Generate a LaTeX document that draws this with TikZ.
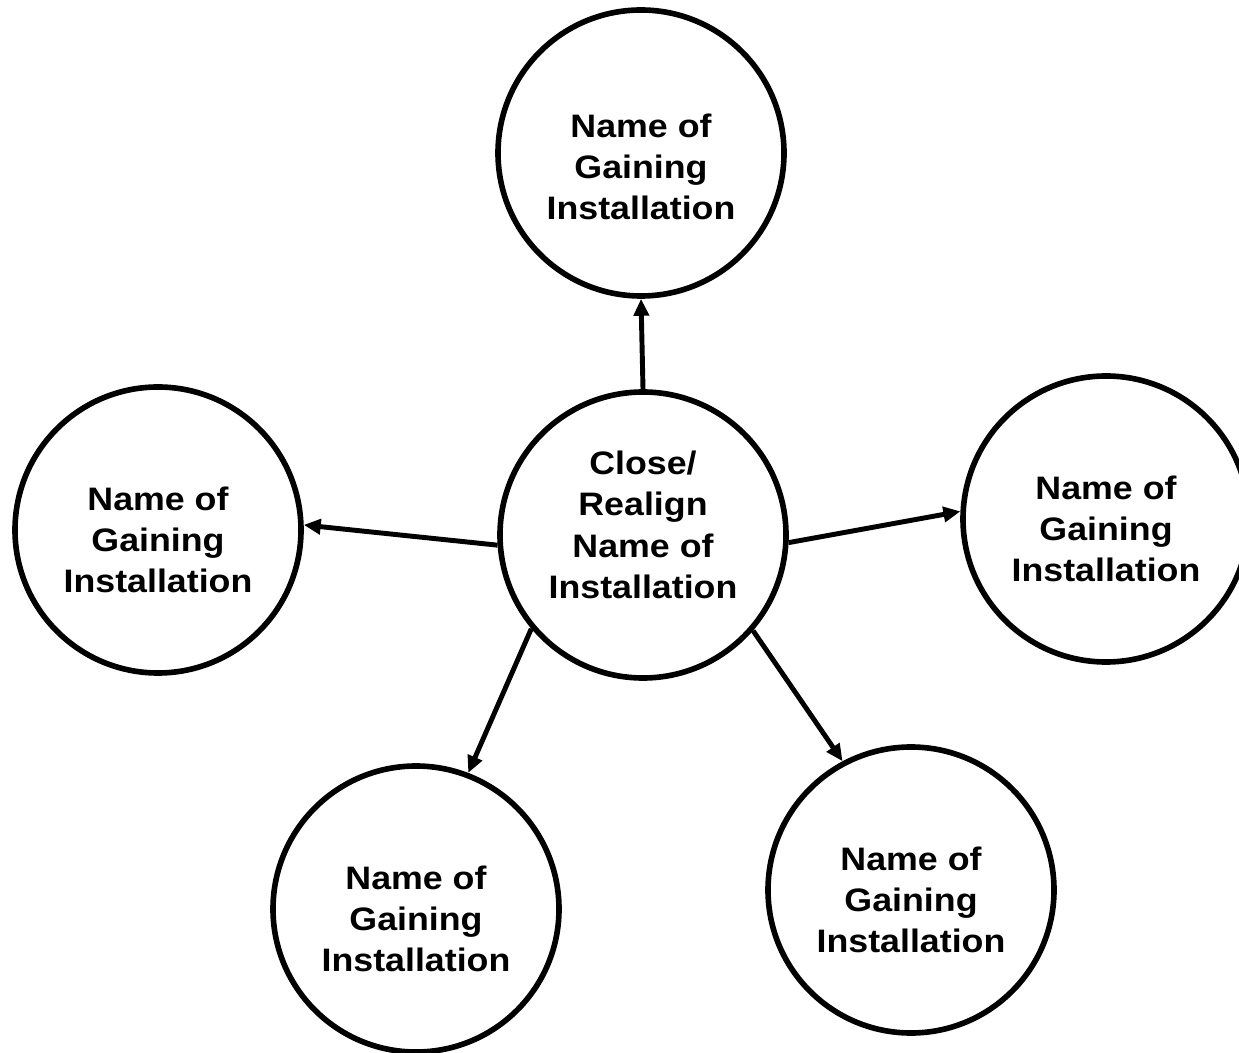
\documentclass[tikz,border=0pt]{standalone}
\usepackage{fontspec}
\newfontfamily\sitefont{Liberation Sans}[FakeStretch=1.1]
\usetikzlibrary{%
   arrows.meta,%
   positioning%
}

\begin{document}
\begin{tikzpicture}[site/.style={
	circle,
	minimum size=5.72cm,
	inner sep=0pt,
	line width=3.2pt,
	draw=black
	},sitetext/.style={
	align=center,
	yshift=-0.2cm,
	font=\sitefont\bfseries\fontsize{18.5}{23.5}\selectfont
	},link/.style={
	line width=2.8pt,
	-{Triangle[length=3.4mm,width=3mm]}
	}
]

\useasboundingbox (0,0) rectangle (24.78,21.04);

% closing installation
\node (ctr) [site,label={[sitetext,yshift=0.4cm]center:Close/\\Realign\\Name of\\Installation}] at (12.86,10.34) {};
% gaining installations
\node (top) [site,label={[sitetext,yshift=-0.08cm]center:Name of\\Gaining\\Installation}] at (12.82,17.98) {};
\node (lft) [site,label={[sitetext]center:Name of\\Gaining\\Installation}] at (3.16,10.44) {};
\node (rgt) [site,label={[sitetext]center:Name of\\Gaining\\Installation}] at (22.12,10.66) {};
\node (bl) [site,label={[sitetext]center:Name of\\Gaining\\Installation}] at (8.32,2.86) {};
\node (br) [site,label={[sitetext]center:Name of\\Gaining\\Installation}] at (18.22,3.24) {};

\draw[link] (ctr.90) -- (top.270);
\draw[link] (ctr.184.7) -- (lft.2);
\draw[link] (ctr.357.2) -- (rgt.177.7);
\draw[link] (ctr.220.9) -- (bl.69.9);
\draw[link] (ctr.319.7) -- (br.118.6);

\end{tikzpicture}
\end{document}
